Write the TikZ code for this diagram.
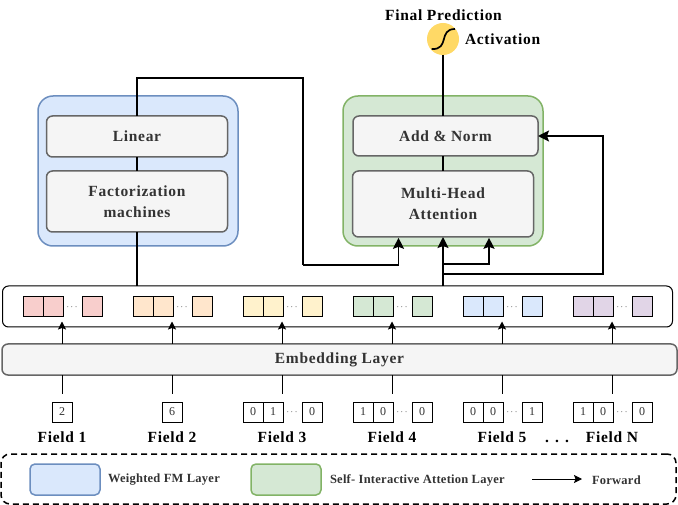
\documentclass[tikz,border=0pt]{standalone}
\usepackage{fontspec}
\setmainfont{Liberation Serif}
\newfontfamily\headfont[LetterSpace=4.5,BoldFont={Liberation Serif Bold}]{Liberation Serif}
\newfontfamily\notefont[LetterSpace=2,BoldFont={Liberation Serif Bold}]{Liberation Serif}
\usetikzlibrary{arrows.meta}
\definecolor{blueF}{HTML}{DAE8FC}\definecolor{blueD}{HTML}{6C8EBF}
\definecolor{greenF}{HTML}{D5E8D4}\definecolor{greenD}{HTML}{82B366}
\definecolor{grayF}{HTML}{F5F5F5}\definecolor{grayD}{HTML}{666666}
\definecolor{redF}{HTML}{F8CECC}\definecolor{orangeF}{HTML}{FFE6CC}
\definecolor{yellowF}{HTML}{FFF2CC}\definecolor{purpleF}{HTML}{E1D5E7}
\definecolor{sunF}{HTML}{FFD966}\definecolor{inkT}{HTML}{333333}
\tikzset{
  x=1pt,y=-1pt,
  every node/.style={inner sep=0pt,outer sep=0pt},
  layerblue/.style={draw=blueD,fill=blueF,line width=1.5pt,rounded corners=15pt},
  layergreen/.style={draw=greenD,fill=greenF,line width=1.5pt,rounded corners=15pt},
  inner/.style={draw=grayD,fill=grayF,line width=1.5pt,rounded corners=6pt,text=inkT,
    font=\headfont\fontsize{15.5}{21}\selectfont\bfseries,align=center},
  wire/.style={draw=black,line width=1.7pt},
  flow/.style={wire,-{Stealth[length=11pt,width=11pt,inset=2pt]}},
  feed/.style={draw=black,line width=1pt,-{Stealth[length=8pt,width=8pt,inset=1.5pt]}},
  stub/.style={draw=black,line width=1pt},
  cell/.style={draw=black,line width=1pt,minimum width=20pt,minimum height=20pt},
  bit/.style={cell,fill=white,text=inkT,font=\fontsize{12}{12}\selectfont},
  dotsmark/.style={text=black,font=\fontsize{9}{9}\selectfont},
  fieldname/.style={font=\headfont\fontsize{15.5}{15.5}\selectfont\bfseries},
  legendtext/.style={font=\notefont\fontsize{12.5}{12.5}\selectfont\bfseries,text=inkT,anchor=west},
}
\begin{document}
\begin{tikzpicture}
\useasboundingbox (0,0) rectangle (678,505);
% layer containers
\node[layerblue,minimum width=200pt,minimum height=150pt] (fmlayer) at (138,171) {};
\node[layergreen,minimum width=200pt,minimum height=150pt] (attlayer) at (443,171) {};
% embedding row and embedding layer
\node[draw=black,line width=1pt,rounded corners=6pt,fill=white,minimum width=670pt,minimum height=41pt] (row) at (337.5,306.5) {};
\node[inner,minimum width=675pt,minimum height=31pt] (embed) at (339.5,359.5) {Embedding Layer};
% inner blocks
\node[inner,minimum width=181pt,minimum height=41pt] (linear) at (137,136.5) {Linear};
\node[inner,minimum width=181pt,minimum height=61pt] (fm) at (137,201.5) {Factorization\\machines};
\node[inner,minimum width=185pt,minimum height=40pt] (addn) at (445.5,136) {Add \& Norm};
\node[inner,minimum width=181pt,minimum height=66pt] (attn) at (443,204) {Multi-Head\\Attention};
% activation
\node[circle,fill=sunF,minimum size=32pt] (act) at (443,39) {};
\draw[line width=1.7pt] (431.7,49) .. controls (450,50) and (438,29) .. (455,29);
\node[font=\headfont\fontsize{15.5}{15.5}\selectfont\bfseries,anchor=center] (final) at (443.5,15) {Final Prediction};
\node[font=\headfont\fontsize{15.5}{15.5}\selectfont\bfseries,anchor=west] (actlabel) at (465,39) {Activation};
% fields: embedding cells, feeds and input stubs
\foreach \i/\cx/\col in {a/62/redF,b/172/orangeF,c/282/yellowF,d/392/greenF,e/502/blueF,f/612/purpleF}{
  \node[cell,fill=\col] (e1\i) at (\cx-29,307) {};
  \node[cell,fill=\col] (e2\i) at (\cx-9,307) {};
  \node[cell,fill=\col] (e3\i) at (\cx+30,307) {};
  \node[dotsmark] (ed\i) at (\cx+10,307) {$\cdots$};
  \coordinate (tip\i) at (\cx,321.5);
  \draw[feed] (embed.north -| tip\i) -- (tip\i);
  \coordinate (low\i) at (\cx,394);
  \draw[stub] (embed.south -| low\i) -- (low\i);
}
\node[bit] (ina) at (62,412) {2};
\node[bit] (inb) at (172,412) {6};
\foreach \i/\cx/\p/\q/\r in {c/282/0/1/0,d/392/1/0/0,e/502/0/0/1,f/612/1/0/0}{
  \node[bit] (i1\i) at (\cx-29,412) {\p};
  \node[bit] (i2\i) at (\cx-9,412) {\q};
  \node[bit] (i3\i) at (\cx+30,412) {\r};
  \node[dotsmark] (id\i) at (\cx+10,412) {$\cdots$};
}
\foreach \i/\cx/\t in {a/62/Field 1,b/172/Field 2,c/282/Field 3,d/392/Field 4,e/502/Field 5,f/612/Field N}{
  \node[fieldname] (name\i) at (\cx,437.5) {\t};
}
\node[fieldname] (more) at (557,441.5) {. . .};
% connectors between the blocks
\coordinate (upL) at (137,78);
\coordinate (upR) at (303,78);
\coordinate (dnR) at (303,265);
\coordinate (inL) at (398.5,237.8);
\coordinate (inR) at (489,237.8);
\coordinate (brA) at (443,264);
\coordinate (brB) at (443,274);
\coordinate (loop) at (603,274);
\draw[wire] (fm.south) -- (fm.south |- row.north);
\draw[wire] (fm.north) -- (linear.south);
\draw[wire] (linear.north) -- (upL) -- (upR) -- (dnR);
\draw[flow] (dnR) -| (inL);
\draw[flow] (attn.south |- row.north) -- (attn.south);
\draw[flow] (brA) -| (inR);
\draw[flow] (brB) -- (loop) |- (addn.east);
\draw[wire] (attn.north) -- (attn.north |- addn.south);
\draw[wire] (act.south) -- (act.south |- addn.north);
% legend
\node[draw=black,line width=1.5pt,dash pattern=on 6pt off 4pt,rounded corners=9pt,minimum width=675pt,minimum height=50pt] (legend) at (338.5,479) {};
\node[layerblue,rounded corners=5pt,minimum width=70pt,minimum height=31pt] (kblue) at (65,479.5) {};
\node[legendtext] (tblue) at (108,480) {Weighted FM Layer};
\node[layergreen,rounded corners=5pt,minimum width=70pt,minimum height=31pt] (kgreen) at (286,479.5) {};
\node[legendtext] (tgreen) at (330,480) {Self- Interactive Attetion Layer};
\coordinate (kfrom) at (532,479);
\coordinate (kto) at (582,479);
\draw[feed] (kfrom) -- (kto);
\node[legendtext] (tfwd) at (592,480) {Forward};
\end{tikzpicture}
\end{document}
